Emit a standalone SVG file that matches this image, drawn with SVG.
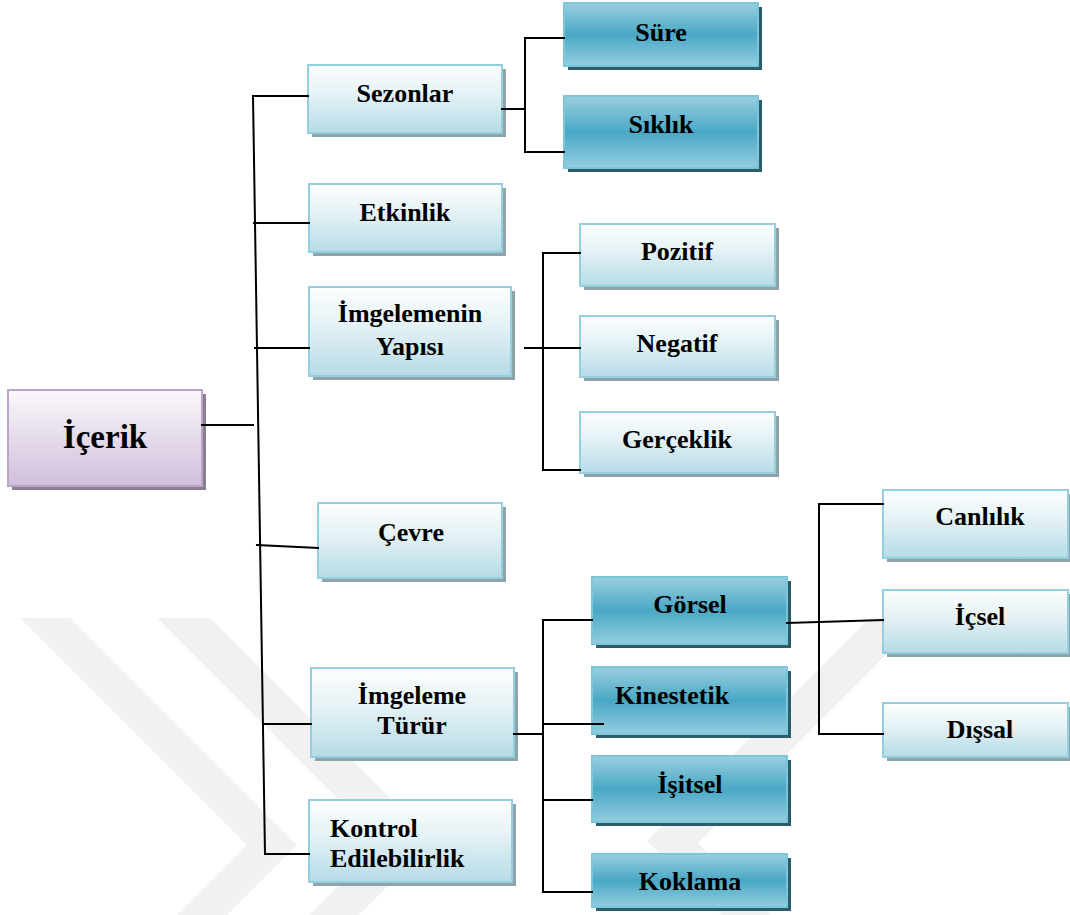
<svg xmlns="http://www.w3.org/2000/svg" width="1070" height="915" viewBox="0 0 1070 915">
  <defs>
    <linearGradient id="gLight" x1="0" y1="0" x2="0" y2="1">
      <stop offset="0" stop-color="#fdfefe"/>
      <stop offset="0.45" stop-color="#e3f1f5"/>
      <stop offset="1" stop-color="#b6dbe6"/>
    </linearGradient>
    <linearGradient id="gDark" x1="0" y1="0" x2="0" y2="1">
      <stop offset="0" stop-color="#9acfe0"/>
      <stop offset="0.5" stop-color="#49a8c5"/>
      <stop offset="1" stop-color="#93cde0"/>
    </linearGradient>
    <linearGradient id="gRoot" x1="0" y1="0" x2="0" y2="1">
      <stop offset="0" stop-color="#faf8fb"/>
      <stop offset="1" stop-color="#d0bfdb"/>
    </linearGradient>
  </defs>
  <style>
    .lbl { font-family: "Liberation Serif", "Times New Roman", serif; font-weight: bold; font-size: 26px; fill: #000; }
    .mid { text-anchor: middle; }
    .root { font-size: 33px; }
    .light { fill: url(#gLight); stroke: #93cfdf; stroke-width: 2; }
    .lightShadow { fill: #8fa3aa; }
    .dark { fill: url(#gDark); stroke: #7cc6da; stroke-width: 2; }
    .darkShadow { fill: #2b5c6a; }
    .rootBox { fill: url(#gRoot); stroke: #baa4ca; stroke-width: 2; }
    .rootShadow { fill: #8b7d92; }
    .wm { fill: #f1f1f1; }
    #connectors line { stroke: #000; stroke-width: 2; stroke-linecap: square; }
  </style>

  <rect width="1070" height="915" fill="#ffffff"/>

  <!-- faint background emblem -->
  <g id="emblem">
    <polygon class="wm" points="20,618 70,618 297,845 227,915 177,915 247,845"/>
    <polygon class="wm" points="157,618 210,618 433,841 359,915 309,915 382,843"/>
    <polygon class="wm" points="923,618 870,618 647,841 721,915 771,915 698,843"/>
  </g>

  <!-- root -->
  <g id="node-icerik">
    <rect class="rootShadow" x="12" y="394" width="194" height="96"/>
    <rect class="rootBox" x="8" y="390" width="194" height="96"/>
    <text class="lbl root mid" x="105" y="448">İçerik</text>
  </g>

  <!-- first level -->
  <g id="node-sezonlar">
    <rect class="lightShadow" x="312" y="69" width="194" height="68"/>
    <rect class="light" x="308" y="65" width="194" height="68"/>
    <text class="lbl mid" x="405" y="102">Sezonlar</text>
  </g>
  <g id="node-etkinlik">
    <rect class="lightShadow" x="313" y="188" width="193" height="68"/>
    <rect class="light" x="309" y="184" width="193" height="68"/>
    <text class="lbl mid" x="405" y="221">Etkinlik</text>
  </g>
  <g id="node-imgelemenin-yapisi">
    <rect class="lightShadow" x="313" y="291" width="202" height="89"/>
    <rect class="light" x="309" y="287" width="202" height="89"/>
    <text class="lbl mid" x="410" y="322">İmgelemenin</text>
    <text class="lbl mid" x="410" y="355">Yapısı</text>
  </g>
  <g id="node-cevre">
    <rect class="lightShadow" x="322" y="507" width="184" height="75"/>
    <rect class="light" x="318" y="503" width="184" height="75"/>
    <text class="lbl mid" x="411" y="541">Çevre</text>
  </g>
  <g id="node-imgeleme-turur">
    <rect class="lightShadow" x="315" y="672" width="203" height="89"/>
    <rect class="light" x="311" y="668" width="203" height="89"/>
    <text class="lbl mid" x="412" y="704">İmgeleme</text>
    <text class="lbl mid" x="412" y="734">Türür</text>
  </g>
  <g id="node-kontrol">
    <rect class="lightShadow" x="313" y="804" width="203" height="82"/>
    <rect class="light" x="309" y="800" width="203" height="82"/>
    <text class="lbl" x="330" y="837">Kontrol</text>
    <text class="lbl" x="330" y="867">Edilebilirlik</text>
  </g>

  <!-- Sezonlar children -->
  <g id="node-sure">
    <rect class="darkShadow" x="568" y="7" width="194" height="63"/>
    <rect class="dark" x="564" y="3" width="194" height="63"/>
    <text class="lbl mid" x="661" y="41">Süre</text>
  </g>
  <g id="node-siklik">
    <rect class="darkShadow" x="568" y="100" width="194" height="72"/>
    <rect class="dark" x="564" y="96" width="194" height="72"/>
    <text class="lbl mid" x="661" y="133">Sıklık</text>
  </g>

  <!-- Yapısı children -->
  <g id="node-pozitif">
    <rect class="lightShadow" x="584" y="228" width="195" height="62"/>
    <rect class="light" x="580" y="224" width="195" height="62"/>
    <text class="lbl mid" x="677" y="260">Pozitif</text>
  </g>
  <g id="node-negatif">
    <rect class="lightShadow" x="584" y="320" width="195" height="61"/>
    <rect class="light" x="580" y="316" width="195" height="61"/>
    <text class="lbl mid" x="677" y="352">Negatif</text>
  </g>
  <g id="node-gerceklik">
    <rect class="lightShadow" x="584" y="416" width="195" height="61"/>
    <rect class="light" x="580" y="412" width="195" height="61"/>
    <text class="lbl mid" x="677" y="448">Gerçeklik</text>
  </g>

  <!-- Türür children -->
  <g id="node-gorsel">
    <rect class="darkShadow" x="596" y="581" width="195" height="67"/>
    <rect class="dark" x="592" y="577" width="195" height="67"/>
    <text class="lbl mid" x="690" y="613">Görsel</text>
  </g>
  <g id="node-kinestetik">
    <rect class="darkShadow" x="596" y="671" width="195" height="67"/>
    <rect class="dark" x="592" y="667" width="195" height="67"/>
    <text class="lbl" x="615" y="704">Kinestetik</text>
  </g>
  <g id="node-isitsel">
    <rect class="darkShadow" x="596" y="760" width="195" height="66"/>
    <rect class="dark" x="592" y="756" width="195" height="66"/>
    <text class="lbl mid" x="690" y="793">İşitsel</text>
  </g>
  <g id="node-koklama">
    <rect class="darkShadow" x="596" y="858" width="195" height="53"/>
    <rect class="dark" x="592" y="854" width="195" height="53"/>
    <text class="lbl mid" x="690" y="890">Koklama</text>
  </g>

  <!-- Görsel children -->
  <g id="node-canlilik">
    <rect class="lightShadow" x="887" y="494" width="185" height="68"/>
    <rect class="light" x="883" y="490" width="185" height="68"/>
    <text class="lbl mid" x="980" y="525">Canlılık</text>
  </g>
  <g id="node-icsel">
    <rect class="lightShadow" x="887" y="594" width="185" height="63"/>
    <rect class="light" x="883" y="590" width="185" height="63"/>
    <text class="lbl mid" x="980" y="625">İçsel</text>
  </g>
  <g id="node-dissal">
    <rect class="lightShadow" x="887" y="707" width="185" height="54"/>
    <rect class="light" x="883" y="703" width="185" height="54"/>
    <text class="lbl mid" x="980" y="738">Dışsal</text>
  </g>

  <g id="connectors">
    <!-- trunk from the root -->
    <line x1="202" y1="425" x2="253" y2="425"/>
    <line x1="253" y1="96" x2="265" y2="854"/>
    <line x1="253" y1="96" x2="308" y2="96"/>
    <line x1="254" y1="223" x2="309" y2="223"/>
    <line x1="255" y1="348" x2="309" y2="348"/>
    <line x1="257" y1="545" x2="318" y2="548"/>
    <line x1="263" y1="724" x2="311" y2="724"/>
    <line x1="265" y1="854" x2="309" y2="854"/>
    <!-- Sezonlar branch -->
    <line x1="502" y1="109" x2="525" y2="109"/>
    <line x1="525" y1="38" x2="525" y2="152"/>
    <line x1="525" y1="38" x2="564" y2="38"/>
    <line x1="525" y1="152" x2="564" y2="152"/>
    <!-- Yapısı branch -->
    <line x1="525" y1="348" x2="580" y2="348"/>
    <line x1="543" y1="253" x2="543" y2="470"/>
    <line x1="543" y1="253" x2="580" y2="253"/>
    <line x1="543" y1="470" x2="580" y2="470"/>
    <!-- Türür branch -->
    <line x1="514" y1="734" x2="543" y2="734"/>
    <line x1="543" y1="620" x2="543" y2="892"/>
    <line x1="543" y1="620" x2="592" y2="620"/>
    <line x1="543" y1="724" x2="603" y2="724"/>
    <line x1="543" y1="800" x2="592" y2="800"/>
    <line x1="543" y1="892" x2="592" y2="892"/>
    <!-- Görsel branch -->
    <line x1="787" y1="623" x2="883" y2="620"/>
    <line x1="819" y1="504" x2="819" y2="734"/>
    <line x1="819" y1="504" x2="883" y2="504"/>
    <line x1="819" y1="734" x2="883" y2="734"/>
  </g>
</svg>
